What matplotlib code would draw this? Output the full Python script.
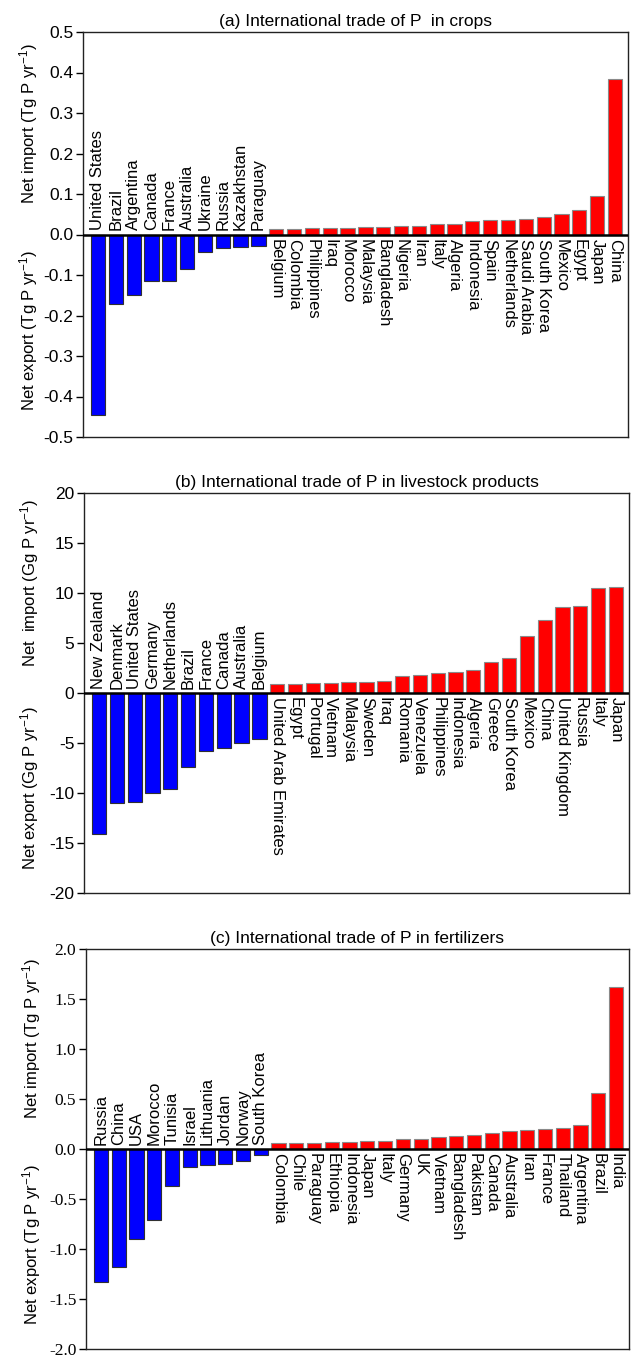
import matplotlib
matplotlib.use("Agg")
import matplotlib.pyplot as plt

plt.rcParams["font.family"] = ["Liberation Sans", "DejaVu Sans"]
plt.rcParams["axes.unicode_minus"] = False
plt.rcParams["mathtext.default"] = "regular"

# (a) crops, Tg P / yr
crop_countries = ["United States", "Brazil", "Argentina", "Canada", "France", "Australia",
                  "Ukraine", "Russia", "Kazakhstan", "Paraguay", "Belgium", "Colombia",
                  "Philippines", "Iraq", "Morocco", "Malaysia", "Bangladesh", "Nigeria",
                  "Iran", "Italy", "Algeria", "Indonesia", "Spain", "Netherlands",
                  "Saudi Arabia", "South Korea", "Mexico", "Egypt", "Japan", "China"]
crop_values = [-0.445, -0.171, -0.150, -0.116, -0.115, -0.084, -0.043, -0.033, -0.031, -0.028,
               0.014, 0.014, 0.0156, 0.0165, 0.0165, 0.018, 0.019, 0.020, 0.0206, 0.0247,
               0.0255, 0.0337, 0.0346, 0.036, 0.0387, 0.0444, 0.051, 0.061, 0.096, 0.383]

# (b) livestock products, Gg P / yr
live_countries = ["New Zealand", "Denmark", "United States", "Germany", "Netherlands", "Brazil",
                  "France", "Canada", "Australia", "Belgium", "United Arab Emirates", "Egypt",
                  "Portugal", "Vietnam", "Malaysia", "Sweden", "Iraq", "Romania", "Venezuela",
                  "Philippines", "Indonesia", "Algeria", "Greece", "South Korea", "Mexico",
                  "China", "United Kingdom", "Russia", "Italy", "Japan"]
live_values = [-14.1, -11.0, -10.9, -9.97, -9.57, -7.4, -5.76, -5.49, -5.03, -4.6,
               0.95, 0.95, 1.0, 1.0, 1.08, 1.15, 1.18, 1.68, 1.84, 2.04,
               2.07, 2.3, 3.06, 3.52, 5.72, 7.3, 8.65, 8.68, 10.49, 10.56]

# (c) fertilizers, Tg P / yr
fert_countries = ["Russia", "China", "USA", "Morocco", "Tunisia", "Israel", "Lithuania",
                  "Jordan", "Norway", "South Korea", "Colombia", "Chile", "Paraguay",
                  "Ethiopia", "Indonesia", "Japan", "Italy", "Germany", "UK", "Vietnam",
                  "Bangladesh", "Pakistan", "Canada", "Australia", "Iran", "France",
                  "Thailand", "Argentina", "Brazil", "India"]
fert_values = [-1.326, -1.178, -0.898, -0.714, -0.368, -0.178, -0.155, -0.145, -0.115, -0.059,
               0.056, 0.0625, 0.0625, 0.066, 0.072, 0.076, 0.076, 0.105, 0.105, 0.125,
               0.128, 0.141, 0.164, 0.181, 0.1875, 0.20, 0.214, 0.24, 0.5625, 1.617]

panels = [
    dict(names=crop_countries, values=crop_values,
         title="(a) International trade of P  in crops",
         ylim=(-0.5, 0.5), ticks=[-0.5, -0.4, -0.3, -0.2, -0.1, 0.0, 0.1, 0.2, 0.3, 0.4, 0.5],
         fmt="{:.1f}", unit="Tg", imp="Net import", tickfont="Liberation Sans",
         rect=[83 / 633, 1 - 437 / 1357, 545 / 633, 405 / 1357]),
    dict(names=live_countries, values=live_values,
         title="(b) International trade of P in livestock products",
         ylim=(-20, 20), ticks=[-20, -15, -10, -5, 0, 5, 10, 15, 20],
         fmt="{:.0f}", unit="Gg", imp="Net  import", tickfont="Liberation Sans",
         rect=[84 / 633, 1 - 893 / 1357, 545 / 633, 400 / 1357]),
    dict(names=fert_countries, values=fert_values,
         title="(c) International trade of P in fertilizers",
         ylim=(-2.0, 2.0), ticks=[-2.0, -1.5, -1.0, -0.5, 0.0, 0.5, 1.0, 1.5, 2.0],
         fmt="{:.1f}", unit="Tg", imp="Net import", tickfont="Liberation Serif",
         rect=[86 / 633, 1 - 1349 / 1357, 543 / 633, 400 / 1357]),
]

fig = plt.figure(figsize=(6.33, 13.57), dpi=100)

for p in panels:
    ax = fig.add_axes(p["rect"])
    names = p["names"]
    vals = p["values"]
    xs = list(range(len(vals)))
    colors = ["blue" if v < 0 else "red" for v in vals]
    edges = ["#303030" if v < 0 else "#8a8a8a" for v in vals]
    ax.bar(xs, vals, width=0.8, color=colors, edgecolor=edges, linewidth=0.8, zorder=2)
    ax.set_xlim(-0.84, len(vals) - 0.27)
    ax.set_ylim(*p["ylim"])
    ax.axhline(0, color="black", linewidth=1.8, zorder=3)

    # country names: exporters above the zero line, importers below it
    for x, name, v in zip(xs, names, vals):
        if v < 0:
            ax.annotate(name, (x, 0), xytext=(0, 3), textcoords="offset points",
                        rotation=90, ha="center", va="bottom", fontsize=12)
        else:
            ax.annotate(name, (x, 0), xytext=(0, -3), textcoords="offset points",
                        rotation=-90, ha="center", va="top", fontsize=12)

    ax.set_xticks([])
    ax.set_yticks(p["ticks"])
    ax.set_yticklabels([p["fmt"].format(t) for t in p["ticks"]],
                       fontsize=12.5, family=p["tickfont"])
    ax.tick_params(axis="y", direction="out", length=5, width=1, pad=2)
    for s in ax.spines.values():
        s.set_linewidth(1.0)
        s.set_color("#222222")

    ax.set_title(p["title"], fontsize=12.5, pad=4)
    unit = " (" + p["unit"] + " P yr$^{-1}$)"
    ax.text(-0.10, 0.775, p["imp"] + unit, transform=ax.transAxes, rotation=90,
            ha="center", va="center", fontsize=12)
    ax.text(-0.10, 0.262, "Net export" + unit, transform=ax.transAxes, rotation=90,
            ha="center", va="center", fontsize=12)

fig.savefig("out.png", dpi=100)
